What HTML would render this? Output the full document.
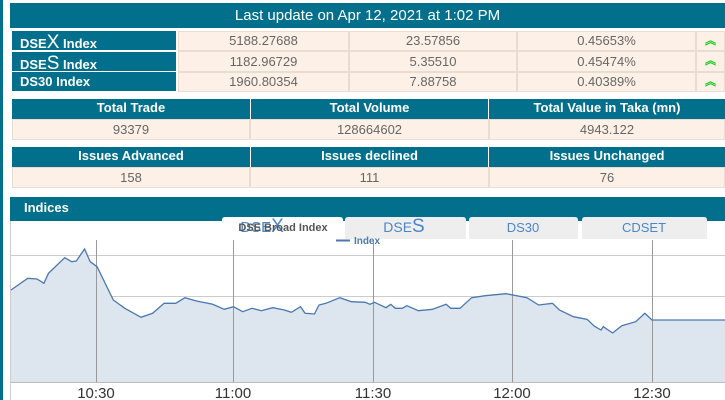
<!DOCTYPE html>
<html><head><style>
body{margin:0;width:725px;height:400px;overflow:hidden;background:#fff;font-family:"Liberation Sans",Arial,sans-serif;position:relative}
.a{position:absolute;box-sizing:border-box}
.h{background:#02708c;color:#fff;text-align:center;font-weight:bold;font-size:13px}
.c{background:#fdf1e7;color:#666;text-align:center;font-size:13px;border:1px solid #e8ddd0}
.g{color:#1c1;font-size:11px;font-weight:bold}
</style></head><body>
<div class="a" style="left:0;top:0;width:3px;height:400px;background:#02708c"></div>
<div class="a h" style="left:10px;top:3px;width:715px;height:25px;line-height:25px;font-size:15px;font-weight:normal">Last update on Apr 12, 2021 at 1:02 PM</div>

<div class="a h" style="left:12px;top:31px;width:164px;height:19px;text-align:left;padding-left:8px;line-height:24px;font-size:13px">DSE<span style="font-size:19px;font-weight:normal">X</span> Index</div>
<div class="a h" style="left:12px;top:52px;width:164px;height:19px;text-align:left;padding-left:8px;line-height:24px;font-size:13px">DSE<span style="font-size:19px;font-weight:normal">S</span> Index</div>
<div class="a h" style="left:12px;top:72px;width:164px;height:19px;text-align:left;padding-left:8px;line-height:19px;font-size:13px">DS30 Index</div>

<div class="a c" style="left:178px;top:31px;width:171px;height:20px;line-height:18px">5188.27688</div>
<div class="a c" style="left:349px;top:31px;width:168px;height:20px;line-height:18px">23.57856</div>
<div class="a c" style="left:517px;top:31px;width:179px;height:20px;line-height:18px">0.45653%</div>
<div class="a c g" style="left:696px;top:31px;width:29px;height:20px;line-height:18px">︽</div>
<div class="a c" style="left:178px;top:51px;width:171px;height:21px;line-height:19px">1182.96729</div>
<div class="a c" style="left:349px;top:51px;width:168px;height:21px;line-height:19px">5.35510</div>
<div class="a c" style="left:517px;top:51px;width:179px;height:21px;line-height:19px">0.45474%</div>
<div class="a c g" style="left:696px;top:51px;width:29px;height:21px;line-height:19px">︽</div>
<div class="a c" style="left:178px;top:72px;width:171px;height:20px;line-height:18px">1960.80354</div>
<div class="a c" style="left:349px;top:72px;width:168px;height:20px;line-height:18px">7.88758</div>
<div class="a c" style="left:517px;top:72px;width:179px;height:20px;line-height:18px">0.40389%</div>
<div class="a c g" style="left:696px;top:72px;width:29px;height:20px;line-height:18px">︽</div>

<div class="a h" style="left:12px;top:99px;width:238px;height:20px;line-height:18px">Total Trade</div>
<div class="a h" style="left:251px;top:99px;width:237px;height:20px;line-height:18px">Total Volume</div>
<div class="a h" style="left:489px;top:99px;width:236px;height:20px;line-height:18px">Total Value in Taka (mn)</div>
<div class="a c" style="left:12px;top:119px;width:238px;height:21px;line-height:19px">93379</div>
<div class="a c" style="left:250px;top:119px;width:239px;height:21px;line-height:19px">128664602</div>
<div class="a c" style="left:489px;top:119px;width:236px;height:21px;line-height:19px">4943.122</div>

<div class="a h" style="left:12px;top:147px;width:238px;height:20px;line-height:18px">Issues Advanced</div>
<div class="a h" style="left:251px;top:147px;width:237px;height:20px;line-height:18px">Issues declined</div>
<div class="a h" style="left:489px;top:147px;width:236px;height:20px;line-height:18px">Issues Unchanged</div>
<div class="a c" style="left:12px;top:167px;width:238px;height:21px;line-height:19px">158</div>
<div class="a c" style="left:250px;top:167px;width:239px;height:21px;line-height:19px">111</div>
<div class="a c" style="left:489px;top:167px;width:236px;height:21px;line-height:19px">76</div>

<div class="a h" style="left:10px;top:197px;width:715px;height:24px;line-height:22px;text-align:left;padding-left:14px">Indices</div>
<div class="a" style="left:10px;top:221px;width:1px;height:179px;background:#ccc"></div>

<svg class="a" style="left:0;top:0" width="725" height="400">
<g stroke="#ccc" stroke-width="1">
<line x1="11" y1="255.5" x2="725" y2="255.5"/><line x1="11" y1="296.5" x2="725" y2="296.5"/>
<line x1="11" y1="336.5" x2="725" y2="336.5"/><line x1="11" y1="377.5" x2="725" y2="377.5"/>
</g>
<polygon fill="#dde5ef" points="11,290 27.7,278.3 37,279 43.9,283.3 48.5,273.3 64.7,257.7 71.7,261.7 76.3,261 84.6,249 90.2,261.7 97.1,266.7 113.3,300 124.8,308.3 141,317.3 152.6,313.3 164.1,303.3 175.7,303.3 184.9,297.7 196.5,301 212.7,304.3 224.2,309.3 233.5,306.7 242.7,311.7 252,308.3 261.2,310.7 272.8,307.7 284.3,310 291.3,312.3 300.5,306.7 305.1,313.3 314.4,314 319,305 325.9,303.3 339.8,297.7 351.4,301.7 365.2,302.3 369.9,304.3 374.5,302.3 386,307.7 390.7,304.3 395.3,308.3 402.2,308.3 406.8,305.7 418.4,310.7 432.3,309.3 446.1,304.3 450.8,308.3 460,308.3 471.6,297.7 485.4,295.7 506.2,293.7 527,297.7 538.6,305 552.5,303.3 559.4,310 573.3,316.7 587.1,319.3 594.1,326 601,330 603.3,326.7 612.6,333 621.8,325.7 635.7,321.7 644.9,313.3 651.9,320 725,320 725,382 11,382"/>
<g stroke="#999" stroke-width="1">
<line x1="96.5" y1="240" x2="96.5" y2="382"/><line x1="233.5" y1="240" x2="233.5" y2="382"/>
<line x1="373.5" y1="240" x2="373.5" y2="382"/><line x1="512.5" y1="240" x2="512.5" y2="382"/>
<line x1="652.5" y1="240" x2="652.5" y2="382"/>
</g>
<line x1="11" y1="382.5" x2="725" y2="382.5" stroke="#bbb"/>
<polyline fill="none" stroke="#4a78b0" stroke-width="1.3" points="11,290 27.7,278.3 37,279 43.9,283.3 48.5,273.3 64.7,257.7 71.7,261.7 76.3,261 84.6,249 90.2,261.7 97.1,266.7 113.3,300 124.8,308.3 141,317.3 152.6,313.3 164.1,303.3 175.7,303.3 184.9,297.7 196.5,301 212.7,304.3 224.2,309.3 233.5,306.7 242.7,311.7 252,308.3 261.2,310.7 272.8,307.7 284.3,310 291.3,312.3 300.5,306.7 305.1,313.3 314.4,314 319,305 325.9,303.3 339.8,297.7 351.4,301.7 365.2,302.3 369.9,304.3 374.5,302.3 386,307.7 390.7,304.3 395.3,308.3 402.2,308.3 406.8,305.7 418.4,310.7 432.3,309.3 446.1,304.3 450.8,308.3 460,308.3 471.6,297.7 485.4,295.7 506.2,293.7 527,297.7 538.6,305 552.5,303.3 559.4,310 573.3,316.7 587.1,319.3 594.1,326 601,330 603.3,326.7 612.6,333 621.8,325.7 635.7,321.7 644.9,313.3 651.9,320 725,320"/>
<g font-family="Liberation Sans,Arial,sans-serif" font-size="15" fill="#333" text-anchor="middle">
<text x="96" y="398">10:30</text><text x="233" y="398">11:00</text><text x="373" y="398">11:30</text><text x="512" y="398">12:00</text><text x="652" y="398">12:30</text>
</g>
<path d="M222,239 V220 q0,-3 3,-3 H340 q3,0 3,3 V239 Z" fill="#fff"/>
<path d="M345,239 V220 q0,-3 3,-3 H463 q3,0 3,3 V239 Z" fill="#eee"/>
<path d="M469,239 V220 q0,-3 3,-3 H575 q3,0 3,3 V239 Z" fill="#eee"/>
<path d="M582,239 V220 q0,-3 3,-3 H704 q3,0 3,3 V239 Z" fill="#eee"/>
<g font-family="Liberation Sans,Arial,sans-serif" text-anchor="middle">
<text x="262" y="232" font-size="15" fill="#4a86c8">DSE<tspan font-size="19">X</tspan></text>
<text x="283" y="231" font-size="11" font-weight="bold" fill="#555">DSE Broad Index</text>
<text x="404" y="232" font-size="14" fill="#4a86c8">DSE<tspan font-size="19">S</tspan></text>
<text x="523" y="232" font-size="13" fill="#4a86c8">DS30</text>
<text x="644" y="232" font-size="13" fill="#4a86c8">CDSET</text>
<line x1="336" y1="240.5" x2="350" y2="240.5" stroke="#4a78b0" stroke-width="2"/>
<text x="367" y="244" font-size="10" font-weight="bold" fill="#4a78b0">Index</text>
</g>
</svg>
</body></html>
